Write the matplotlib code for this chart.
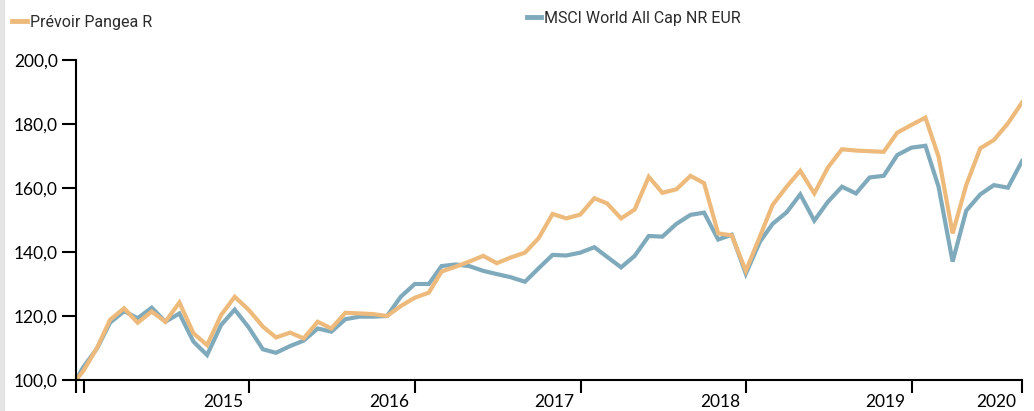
import matplotlib
matplotlib.use("Agg")
import matplotlib.pyplot as plt
from matplotlib.lines import Line2D
from matplotlib.patches import Rectangle
import pandas as pd

# données (base 100)
start_date = "2014-12-15"
first_month_end = "2014-12-31"
n_months = 69

pangea = [100.0,
          102.8, 110.2, 118.8, 122.4, 117.9, 121.4, 118.2, 124.2, 114.6, 110.9,
          120.3, 126.0, 121.9, 116.7, 113.3, 114.8, 113.0, 118.2, 116.1, 121.0,
          120.8, 120.6, 120.0, 123.1, 125.7, 127.3, 133.9, 135.4, 137.0, 138.8,
          136.5, 138.3, 139.8, 144.3, 151.9, 150.5, 151.7, 156.8, 155.2, 150.5,
          153.3, 163.5, 158.5, 159.6, 163.8, 161.5, 145.8, 145.2, 134.1, 144.8,
          154.7, 160.4, 165.4, 158.3, 166.4, 172.1, 171.7, 171.5, 171.3, 177.3,
          179.7, 182.0, 169.8, 145.8, 160.9, 172.4, 175.0, 180.2, 186.7]

msci = [100.0,
        104.0, 110.0, 117.9, 121.5, 119.3, 122.6, 118.2, 120.8, 112.0, 107.8,
        117.2, 122.0, 116.4, 109.6, 108.5, 110.6, 112.3, 116.1, 115.1, 119.0,
        119.8, 119.8, 120.0, 126.0, 130.0, 130.0, 135.6, 136.1, 135.6, 134.1,
        133.1, 132.1, 130.7, 134.9, 139.1, 138.9, 139.8, 141.5, 138.5, 135.2,
        138.8, 145.0, 144.8, 148.8, 151.6, 152.3, 143.9, 145.4, 133.2, 143.2,
        148.8, 152.4, 158.0, 149.8, 155.7, 160.4, 158.3, 163.3, 163.8, 170.3,
        172.6, 173.2, 160.4, 137.0, 152.9, 158.0, 160.9, 160.1, 168.4]

series_names = ["Prévoir Pangea R", "MSCI World All Cap NR EUR"]
year_labels = ["2015", "2016", "2017", "2018", "2019", "2020"]
yticks = [100, 120, 140, 160, 180, 200]

dates = [pd.Timestamp(start_date)] + list(pd.date_range(first_month_end, periods=n_months, freq="ME"))

c_orange = "#EDBA7B"
c_blue = "#7FAABC"

fig = plt.figure(figsize=(10.34, 4.11), dpi=100)
fig.patches.append(Rectangle((0, 0), 4 / 1034, 1, transform=fig.transFigure,
                             color="#e4e4e4", zorder=0))
ax = fig.add_axes([76 / 1034, 1 - 380 / 411, (1022 - 76) / 1034, 320 / 411])

ax.plot(dates, msci, color=c_blue, lw=3.0, solid_joinstyle="miter")
ax.plot(dates, pangea, color=c_orange, lw=3.0, solid_joinstyle="miter")

ax.set_ylim(100, 200)
ax.set_xlim(dates[0], dates[-1])

for s in ["top", "right"]:
    ax.spines[s].set_visible(False)
for s in ["left", "bottom"]:
    ax.spines[s].set_linewidth(1.5)
    ax.spines[s].set_color("black")

ax.set_yticks(yticks)
ax.set_yticklabels([f"{v:.1f}".replace(".", ",") for v in yticks],
                   fontfamily="Lato", fontsize=12.5)
ax.tick_params(axis="y", length=10, width=1.5, pad=3, colors="black")

# graduations : début, 1er janvier de chaque année, fin
year_ticks = [pd.Timestamp(f"{y}-01-01") for y in range(2015, 2021)]
xt = [dates[0]] + year_ticks + [dates[-1]]
ax.set_xticks(xt)
ax.set_xticklabels([])
ax.tick_params(axis="x", length=9, width=1.5, colors="black")

# libellés d'année à gauche de la graduation qui clôt l'année
label_pos = year_ticks[1:] + [dates[-1]]
for lab, d in zip(year_labels, label_pos):
    ax.annotate(lab, xy=(d, 0), xycoords=("data", "axes fraction"),
                xytext=(-6, -14), textcoords="offset pixels",
                ha="right", va="top", fontfamily="Lato", fontsize=12.5,
                annotation_clip=False)

# légende en haut
leg_font = ["Liberation Sans Narrow", "DejaVu Sans Condensed", "Roboto"]
fig.add_artist(Line2D([12 / 1034, 27 / 1034], [1 - 21 / 411] * 2, color=c_orange,
                      lw=3.5, transform=fig.transFigure))
fig.text(30 / 1034, 1 - 22 / 411, series_names[0], va="center", ha="left",
         fontsize=11.5, color="#2b2b2b", family=leg_font)
fig.add_artist(Line2D([527 / 1034, 541 / 1034], [1 - 17 / 411] * 2, color=c_blue,
                      lw=3.5, transform=fig.transFigure))
fig.text(544 / 1034, 1 - 19 / 411, series_names[1], va="center", ha="left",
         fontsize=11.5, color="#2b2b2b", family=leg_font)

fig.savefig("out.png", dpi=100)
